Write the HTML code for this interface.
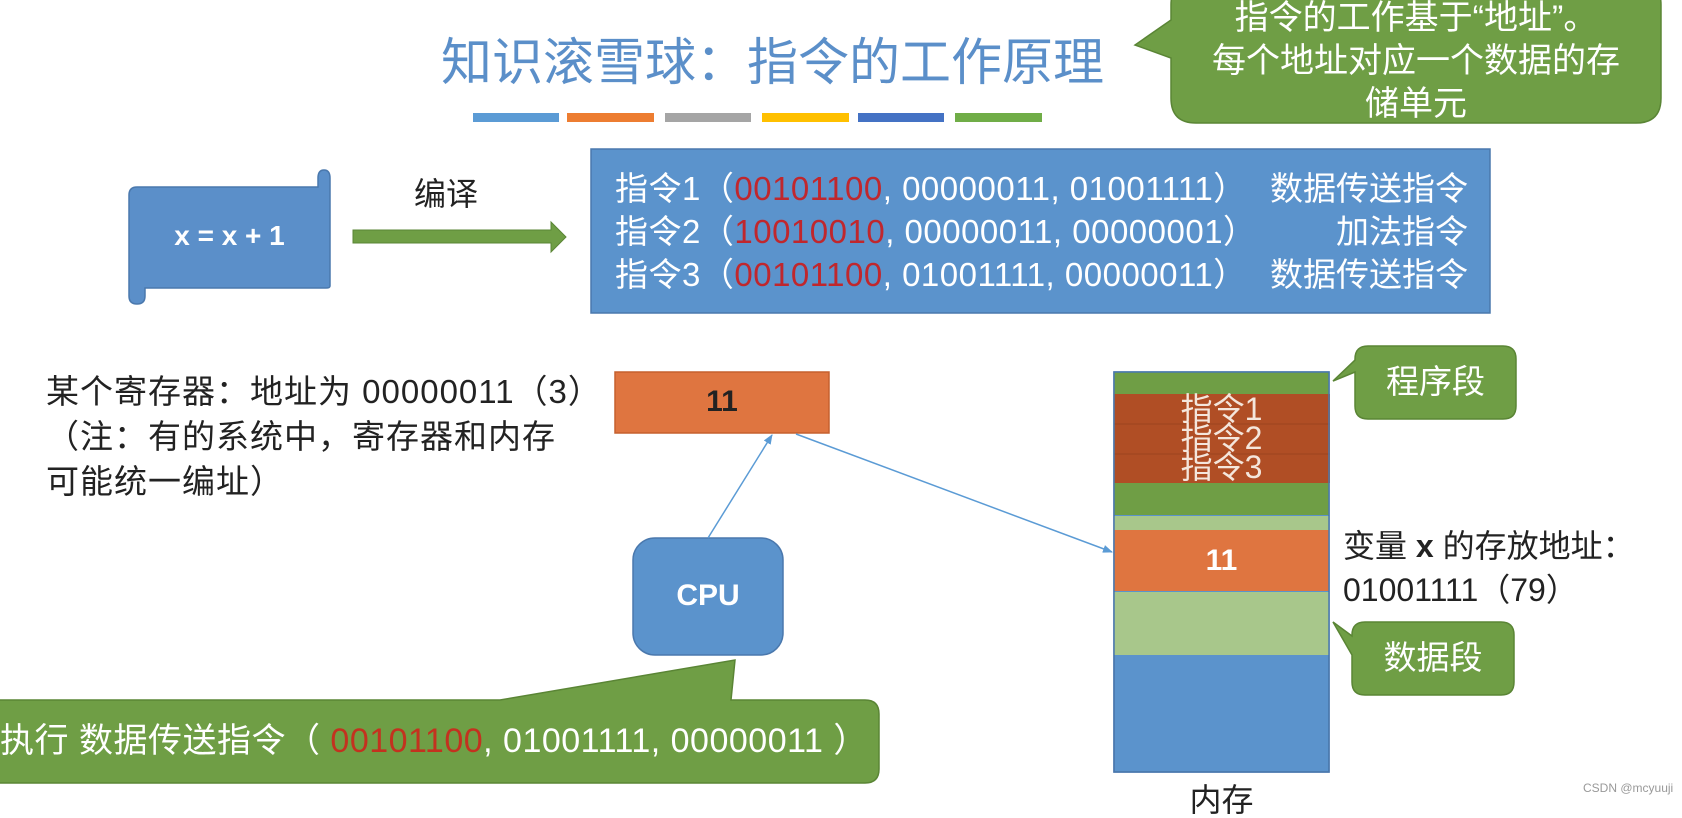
<!DOCTYPE html>
<html><head><meta charset="utf-8"><style>
*{margin:0;padding:0}
body{width:1682px;height:805px;overflow:hidden;background:#fff;position:relative;font-family:"Liberation Sans","Noto Sans CJK SC",sans-serif}
.t{position:absolute;white-space:nowrap;line-height:1}
.r{color:#c0272d}
</style></head><body>
<svg width="1682" height="805" style="position:absolute;left:0;top:0">
<defs><marker id="a" markerWidth="10" markerHeight="8" refX="9" refY="4" orient="auto" markerUnits="userSpaceOnUse"><path d="M0,0 L10,4 L0,8z" fill="#5b9bd5"/></marker></defs>
<rect x="473" y="113" width="86" height="9" fill="#5b9bd5"/>
<rect x="567" y="113" width="87" height="9" fill="#ed7d31"/>
<rect x="665" y="113" width="86" height="9" fill="#a5a5a5"/>
<rect x="762" y="113" width="87" height="9" fill="#ffc000"/>
<rect x="858" y="113" width="86" height="9" fill="#4472c4"/>
<rect x="955" y="113" width="87" height="9" fill="#70ad47"/>
<path d="M1195,-20 H1636 Q1661,-20 1661,5 V98 Q1661,123 1636,123 H1196 Q1171,123 1171,98 V58 L1135,45 L1171,20 V5 Q1171,-20 1195,-20Z" fill="#6f9e45" stroke="#5a8535" stroke-width="1.5"/>
<path d="M137,187 H318 V178 Q318,170 324,170 Q330,170 330,178 V286 Q330,288 326,288 H145 V296 Q145,304 137,304 Q129,304 129,296 V195 Q129,187 137,187Z" fill="#5b8fc9" stroke="#4a78ad" stroke-width="1.5"/>
<path d="M353,230 H551 V222 L566,237 L551,252 V243 H353Z" fill="#6f9e45" stroke="#5a8535"/>
<rect x="591" y="149" width="899" height="164" fill="#5b93cc" stroke="#4a78ad" stroke-width="1.5"/>
<rect x="615" y="372" width="214" height="61" fill="#df7540" stroke="#c5602e" stroke-width="1.5"/>
<rect x="633" y="538" width="150" height="117" rx="22" fill="#5b93cc" stroke="#4a78ad" stroke-width="1.5"/>
<line x1="708" y1="538" x2="772" y2="435" stroke="#5b9bd5" stroke-width="1.5" marker-end="url(#a)"/>
<line x1="796" y1="434" x2="1112" y2="552" stroke="#5b9bd5" stroke-width="1.5" marker-end="url(#a)"/>
<rect x="1114" y="372" width="215" height="400" fill="#5b93cc" stroke="#4a78ad" stroke-width="1.5"/>
<rect x="1114" y="372" width="215" height="22" fill="#6f9e45"/>
<rect x="1114" y="394" width="216" height="89" fill="#b04e25"/>
<line x1="1114" y1="424" x2="1330" y2="424" stroke="#9b4420"/>
<line x1="1114" y1="454" x2="1330" y2="454" stroke="#9b4420"/>
<rect x="1114" y="483" width="215" height="32" fill="#6f9e45"/>
<rect x="1114" y="516" width="215" height="14" fill="#a8c78b"/>
<rect x="1114" y="530" width="215" height="61" fill="#df7540"/>
<rect x="1114" y="592" width="215" height="63" fill="#a8c78b"/>
<rect x="1114" y="372" width="215" height="400" fill="none" stroke="#4a78ad" stroke-width="1.5"/>
<path d="M1368,346 H1503 Q1516,346 1516,359 V406 Q1516,419 1503,419 H1368 Q1355,419 1355,406 V372 L1333,381 L1355,360 V359 Q1355,346 1368,346Z" fill="#6f9e45" stroke="#5a8535" stroke-width="1.5"/>
<path d="M1365,622 H1501 Q1514,622 1514,635 V682 Q1514,695 1501,695 H1365 Q1352,695 1352,682 V655 L1333,622 L1352,636 V635 Q1352,622 1365,622Z" fill="#6f9e45" stroke="#5a8535" stroke-width="1.5"/>
<path d="M-20,700 H500 L735,660 L731,700 H865 Q879,700 879,714 V769 Q879,783 865,783 H-20Z" fill="#6f9e45" stroke="#5a8535" stroke-width="1.5"/>
</svg>
<div class="t" style="left:441px;top:37px;font-size:51px;color:#5b8fc9">知识滚雪球：指令的工作原理</div>
<div class="t" style="left:1171px;top:-3px;width:490px;text-align:center;font-size:34px;line-height:43px;color:#fff">指令的工作基于“地址”。<br>每个地址对应一个数据的存<br>储单元</div>
<div class="t" style="left:129px;top:222px;width:201px;text-align:center;font-size:28px;font-weight:bold;color:#fff">x = x + 1</div>
<div class="t" style="left:414px;top:178px;font-size:32px;color:#222">编译</div>
<div class="t" style="left:615px;top:172px;font-size:33px;letter-spacing:0.5px;color:#fff">指令1（<span class="r">00101100</span>, 00000011, 01001111）</div>
<div class="t" style="left:615px;top:215px;font-size:33px;letter-spacing:0.5px;color:#fff">指令2（<span class="r">10010010</span>, 00000011, 00000001）</div>
<div class="t" style="left:615px;top:258px;font-size:33px;letter-spacing:0.5px;color:#fff">指令3（<span class="r">00101100</span>, 01001111, 00000011）</div>
<div class="t" style="left:1240px;top:172px;width:228px;text-align:right;font-size:33px;color:#fff">数据传送指令</div>
<div class="t" style="left:1240px;top:215px;width:228px;text-align:right;font-size:33px;color:#fff">加法指令</div>
<div class="t" style="left:1240px;top:258px;width:228px;text-align:right;font-size:33px;color:#fff">数据传送指令</div>
<div class="t" style="left:46px;top:369px;font-size:33px;line-height:45px;letter-spacing:1px;color:#222">某个寄存器：地址为 00000011（3）<br>（注：有的系统中，寄存器和内存<br>可能统一编址）</div>
<div class="t" style="left:615px;top:387px;width:214px;text-align:center;font-size:30px;font-weight:bold;color:#222">11</div>
<div class="t" style="left:633px;top:581px;width:150px;text-align:center;font-size:30px;font-weight:bold;color:#fff">CPU</div>
<div class="t" style="left:1114px;top:395px;width:215px;text-align:center;font-size:32px;line-height:29px;color:#f4e6dc">指令1<br>指令2<br>指令3</div>
<div class="t" style="left:1114px;top:546px;width:215px;text-align:center;font-size:30px;font-weight:bold;color:#fff">11</div>
<div class="t" style="left:1114px;top:784px;width:215px;text-align:center;font-size:32px;color:#222">内存</div>
<div class="t" style="left:1355px;top:365px;width:161px;text-align:center;font-size:33px;color:#fff">程序段</div>
<div class="t" style="left:1352px;top:641px;width:162px;text-align:center;font-size:33px;color:#fff">数据段</div>
<div class="t" style="left:1343px;top:524px;font-size:32px;line-height:44px;color:#222">变量 <b>x</b> 的存放地址：<br>01001111（79）</div>
<div class="t" style="left:0;top:724px;font-size:34px;letter-spacing:0.5px;color:#fff">执行 数据传送指令（ <span class="r" style="color:#c3321f">00101100</span>, 01001111, 00000011 ）</div>
<div class="t" style="left:1583px;top:782px;font-size:12px;color:#999">CSDN @mcyuuji</div>
</body></html>
